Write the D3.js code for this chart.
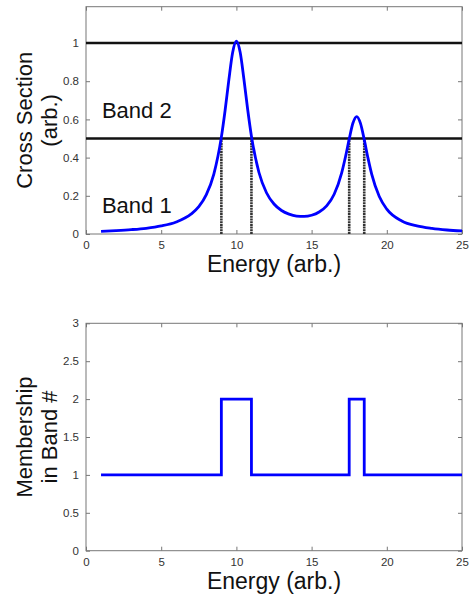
<!DOCTYPE html>
<html>
<head>
<meta charset="utf-8">
<script src="https://cdn.jsdelivr.net/npm/d3@7"></script>
<style>
  body { margin: 0; background: #fff; }
  svg { display: block; font-family: "Liberation Sans", Arial, sans-serif; }
  .tick text { fill: #333; font-size: 11.5px; }
  .frame { fill: none; stroke: #777; stroke-width: 1; }
</style>
</head>
<body>
<div id="chart"></div>
<script>
// cross section
var energy = [1, 2, 3, 4, 5, 6, 7, 7.5, 8, 8.5, 9, 9.25, 9.5, 9.75, 10, 10.25, 10.5, 10.75, 11,
  11.5, 12, 12.5, 13, 13.5, 14, 14.5, 15, 15.5, 16, 16.5, 17, 17.25, 17.5, 17.75, 18, 18.25,
  18.5, 18.75, 19, 19.5, 20, 21, 22, 23, 24, 25]
var crossSection = [0.014, 0.018, 0.023, 0.030, 0.042, 0.063, 0.105, 0.143, 0.206, 0.314, 0.507,
  0.648, 0.808, 0.950, 1.009, 0.951, 0.810, 0.652, 0.512, 0.322, 0.216, 0.157, 0.123, 0.104,
  0.094, 0.092, 0.098, 0.115, 0.147, 0.208, 0.320, 0.403, 0.497, 0.581, 0.615, 0.579, 0.494,
  0.397, 0.312, 0.196, 0.130, 0.068, 0.042, 0.029, 0.021, 0.016]

var thresholds = [0.5, 1.0]
var crossings = [9, 11, 17.5, 18.5]
var bandLabels = [{name: 'Band 2', y: 0.608}, {name: 'Band 1', y: 0.11}]

// membership step function (bottom panel)
var memberEnergy = [1, 9, 11, 17.5, 18.5, 25]
var memberBand = [1, 2, 1, 2, 1, 1]

var xTicks = [0, 5, 10, 15, 20, 25]
var topTicks = [0, 0.2, 0.4, 0.6, 0.8, 1]
var bottomTicks = [0, 0.5, 1, 1.5, 2, 2.5, 3]

var W = 469, H = 599
var svg = d3.select('#chart').append('svg').attr('width', W).attr('height', H)

var left = 86, right = 462
var fmt = d3.format('~g')

function panel(top, bottom, yDomain, yTicks, titleLines){
  var x = d3.scaleLinear().domain([0, 25]).range([left, right])
  var y = d3.scaleLinear().domain(yDomain).range([bottom, top])
  var g = svg.append('g')

  var tl = 4
  g.append('g').attr('transform', 'translate(0,' + bottom + ')')
    .call(d3.axisBottom(x).tickValues(xTicks).tickSizeInner(-tl).tickSizeOuter(0).tickPadding(7).tickFormat(fmt))
  g.append('g').attr('transform', 'translate(0,' + top + ')')
    .call(d3.axisTop(x).tickValues(xTicks).tickSizeInner(-tl).tickSizeOuter(0).tickFormat(''))
  g.append('g').attr('transform', 'translate(' + left + ',0)')
    .call(d3.axisLeft(y).tickValues(yTicks).tickSizeInner(-tl).tickSizeOuter(0).tickPadding(7).tickFormat(fmt))
  g.append('g').attr('transform', 'translate(' + right + ',0)')
    .call(d3.axisRight(y).tickValues(yTicks).tickSizeInner(-tl).tickSizeOuter(0).tickFormat(''))
  g.selectAll('.domain').remove()
  g.selectAll('.tick line').attr('stroke', '#777')

  g.append('rect').attr('class', 'frame')
    .attr('x', left).attr('y', top).attr('width', right - left).attr('height', bottom - top)

  g.append('text')
    .attr('x', (left + right) / 2).attr('y', bottom + 38)
    .attr('text-anchor', 'middle').attr('font-size', 23).attr('fill', '#111')
    .text('Energy (arb.)')

  var cy = (top + bottom) / 2
  titleLines.forEach(function(t, i){
    g.append('text')
      .attr('transform', 'translate(' + (32 + i * 25) + ',' + cy + ') rotate(-90)')
      .attr('text-anchor', 'middle').attr('font-size', 22).attr('fill', '#111')
      .text(t)
  })

  return {g: g, x: x, y: y}
}

// top panel
var p1 = panel(6.7, 234, [0, 1.19], topTicks, ['Cross Section', '(arb.)'])

p1.g.selectAll('line.cross').data(crossings).enter().append('line')
  .attr('x1', d => p1.x(d)).attr('x2', d => p1.x(d))
  .attr('y1', p1.y(0)).attr('y2', p1.y(0.5))
  .attr('stroke', '#333').attr('stroke-width', 2.6).attr('stroke-dasharray', '2,0.7')

p1.g.selectAll('line.thresh').data(thresholds).enter().append('line')
  .attr('x1', p1.x(0)).attr('x2', p1.x(25))
  .attr('y1', d => p1.y(d)).attr('y2', d => p1.y(d))
  .attr('stroke', '#111').attr('stroke-width', 2.4)

var line1 = d3.line()
  .x((d, i) => p1.x(energy[i]))
  .y(d => p1.y(d))
  .curve(d3.curveMonotoneX)

p1.g.append('path').datum(crossSection)
  .attr('d', line1).attr('fill', 'none').attr('stroke', '#0000ff').attr('stroke-width', 2.8)

p1.g.selectAll('text.band').data(bandLabels).enter().append('text')
  .attr('x', p1.x(1.06)).attr('y', d => p1.y(d.y))
  .attr('font-size', 22).attr('fill', '#111')
  .text(d => d.name)

// bottom panel
var p2 = panel(323.3, 550.7, [0, 3], bottomTicks, ['Membership', 'in Band #'])

var line2 = d3.line()
  .x((d, i) => p2.x(memberEnergy[i]))
  .y(d => p2.y(d))
  .curve(d3.curveStepAfter)

p2.g.append('path').datum(memberBand)
  .attr('d', line2).attr('fill', 'none').attr('stroke', '#0000ff').attr('stroke-width', 2.8)
</script>
</body>
</html>
